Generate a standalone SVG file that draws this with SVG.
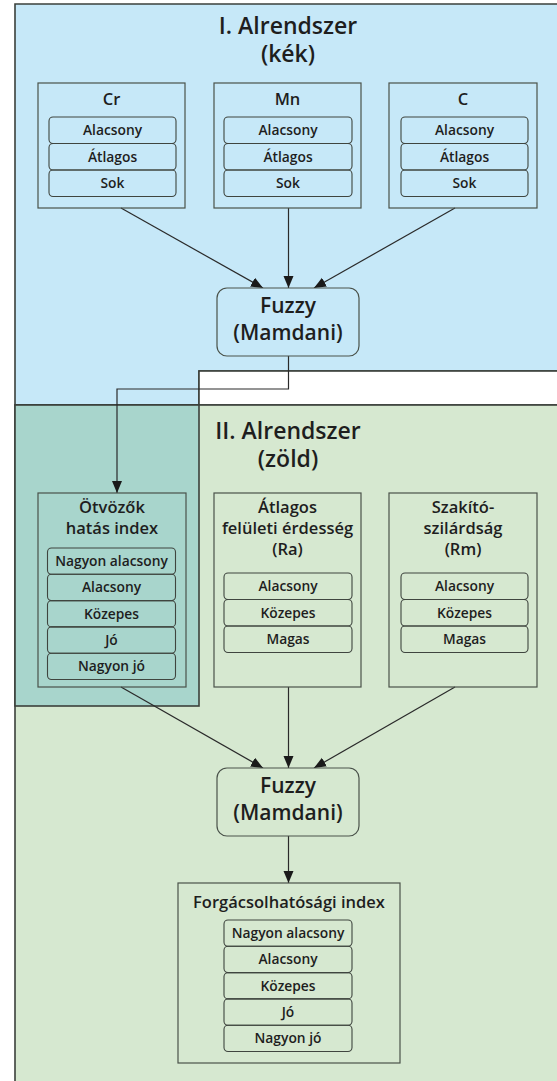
<svg xmlns="http://www.w3.org/2000/svg" width="557" height="1081" viewBox="0 0 557 1081">
<style>
  text { font-family: "Open Sans", "Liberation Sans", sans-serif; font-weight: 600; fill: #1e1e1e; text-anchor: middle; }
  .h1 { font-size: 23px; }
  .fz { font-size: 21px; }
  .t { font-size: 16.5px; }
  .it { font-size: 13.8px; }
  .panel { stroke: #3b403b; stroke-width: 1.6; }
  .box { fill: none; stroke: #4a524a; stroke-width: 1.2; }
  .row { fill: none; stroke: #3f453f; stroke-width: 1.1; }
  .fuzzy { stroke: #4a524a; stroke-width: 1.2; }
  .conn { fill: none; stroke: #2a2a2a; stroke-width: 1.2; }
</style>
<defs>
  <marker id="arr" markerUnits="userSpaceOnUse" markerWidth="13" markerHeight="11" refX="12" refY="5" orient="auto">
    <path d="M0,0 L12,5 L0,10 Z" fill="#1a1a1a"/>
  </marker>
</defs>
<rect x="0" y="0" width="557" height="1081" fill="#ffffff"/>
<g id="panels">
  <path class="panel" fill="#c6e8f8" d="M15,4 H562 V371 H199 V405 H15 Z"/>
  <rect class="panel" fill="#ffffff" x="199" y="371" width="363" height="34"/>
  <rect class="panel" fill="#d6e8d0" x="15" y="405" width="547" height="690"/>
  <rect class="panel" fill="#a8d5cc" x="15" y="405" width="184" height="301"/>
  <text class="h1" x="288" y="34">I. Alrendszer</text>
  <text class="h1" x="288" y="62">(kék)</text>
  <text class="h1" x="288" y="439">II. Alrendszer</text>
  <text class="h1" x="288" y="467">(zöld)</text>
</g>
<g id="connectors">
  <line class="conn" x1="121" y1="208" x2="263" y2="288" marker-end="url(#arr)"/>
  <line class="conn" x1="288.5" y1="208" x2="288.5" y2="288" marker-end="url(#arr)"/>
  <line class="conn" x1="455" y1="208" x2="314" y2="288" marker-end="url(#arr)"/>
  <path class="conn" d="M288.5,356 V389 H117 V493" marker-end="url(#arr)"/>
  <line class="conn" x1="121" y1="687" x2="263" y2="768" marker-end="url(#arr)"/>
  <line class="conn" x1="288.5" y1="687" x2="288.5" y2="768" marker-end="url(#arr)"/>
  <line class="conn" x1="455" y1="687" x2="314" y2="768" marker-end="url(#arr)"/>
  <line class="conn" x1="288.5" y1="836" x2="288.5" y2="883" marker-end="url(#arr)"/>
</g>
<g id="cr">
  <rect class="box" x="38" y="83" width="147" height="125"/>
  <text class="t" x="111.5" y="105">Cr</text>
  <rect class="row" x="49" y="117" width="127" height="26.5" rx="4"/>
  <rect class="row" x="49" y="143.5" width="127" height="26.5" rx="4"/>
  <rect class="row" x="49" y="170" width="127" height="26.5" rx="4"/>
  <text class="it" x="112.5" y="135">Alacsony</text>
  <text class="it" x="112.5" y="161.5">Átlagos</text>
  <text class="it" x="112.5" y="188">Sok</text>
</g>
<g id="mn">
  <rect class="box" x="214" y="83" width="147" height="125"/>
  <text class="t" x="287.5" y="105">Mn</text>
  <rect class="row" x="224" y="117" width="128" height="26.5" rx="4"/>
  <rect class="row" x="224" y="143.5" width="128" height="26.5" rx="4"/>
  <rect class="row" x="224" y="170" width="128" height="26.5" rx="4"/>
  <text class="it" x="288" y="135">Alacsony</text>
  <text class="it" x="288" y="161.5">Átlagos</text>
  <text class="it" x="288" y="188">Sok</text>
</g>
<g id="c">
  <rect class="box" x="389" y="83" width="148" height="125"/>
  <text class="t" x="463" y="105">C</text>
  <rect class="row" x="401" y="117" width="127" height="26.5" rx="4"/>
  <rect class="row" x="401" y="143.5" width="127" height="26.5" rx="4"/>
  <rect class="row" x="401" y="170" width="127" height="26.5" rx="4"/>
  <text class="it" x="464.5" y="135">Alacsony</text>
  <text class="it" x="464.5" y="161.5">Átlagos</text>
  <text class="it" x="464.5" y="188">Sok</text>
</g>
<g id="fuzzy1">
  <rect class="fuzzy" fill="#c6e8f8" x="217" y="288" width="142" height="68" rx="10"/>
  <text class="fz" x="288" y="313">Fuzzy</text>
  <text class="fz" x="288" y="340">(Mamdani)</text>
</g>
<g id="otvozok">
  <rect class="box" x="38" y="493" width="148" height="194"/>
  <text class="t" x="112" y="513">Ötvözők</text>
  <text class="t" x="112" y="534">hatás index</text>
  <rect class="row" x="47.5" y="548" width="128" height="26.3" rx="4"/>
  <rect class="row" x="47.5" y="574.3" width="128" height="26.3" rx="4"/>
  <rect class="row" x="47.5" y="600.6" width="128" height="26.3" rx="4"/>
  <rect class="row" x="47.5" y="626.9" width="128" height="26.3" rx="4"/>
  <rect class="row" x="47.5" y="653.2" width="128" height="26.3" rx="4"/>
  <text class="it" x="111.5" y="566">Nagyon alacsony</text>
  <text class="it" x="111.5" y="592.3">Alacsony</text>
  <text class="it" x="111.5" y="618.6">Közepes</text>
  <text class="it" x="111.5" y="644.9">Jó</text>
  <text class="it" x="111.5" y="671.2">Nagyon jó</text>
</g>
<g id="atlagos">
  <rect class="box" x="214" y="493" width="147" height="194"/>
  <text class="t" x="287.5" y="513">Átlagos</text>
  <text class="t" x="287.5" y="534">felületi érdesség</text>
  <text class="t" x="287.5" y="555">(Ra)</text>
  <rect class="row" x="224" y="573" width="128" height="26.5" rx="4"/>
  <rect class="row" x="224" y="599.5" width="128" height="26.5" rx="4"/>
  <rect class="row" x="224" y="626" width="128" height="26.5" rx="4"/>
  <text class="it" x="288" y="591">Alacsony</text>
  <text class="it" x="288" y="617.5">Közepes</text>
  <text class="it" x="288" y="644">Magas</text>
</g>
<g id="szakito">
  <rect class="box" x="389" y="493" width="148" height="194"/>
  <text class="t" x="463" y="513">Szakító-</text>
  <text class="t" x="463" y="534">szilárdság</text>
  <text class="t" x="463" y="555">(Rm)</text>
  <rect class="row" x="401" y="573" width="127" height="26.5" rx="4"/>
  <rect class="row" x="401" y="599.5" width="127" height="26.5" rx="4"/>
  <rect class="row" x="401" y="626" width="127" height="26.5" rx="4"/>
  <text class="it" x="464.5" y="591">Alacsony</text>
  <text class="it" x="464.5" y="617.5">Közepes</text>
  <text class="it" x="464.5" y="644">Magas</text>
</g>
<g id="fuzzy2">
  <rect class="fuzzy" fill="#d6e8d0" x="217" y="768" width="142" height="68" rx="10"/>
  <text class="fz" x="288" y="793">Fuzzy</text>
  <text class="fz" x="288" y="820">(Mamdani)</text>
</g>
<g id="forgacs">
  <rect class="box" x="178" y="883" width="222" height="180"/>
  <text class="t" x="289" y="908">Forgácsolhatósági index</text>
  <rect class="row" x="224" y="920" width="128" height="26.3" rx="4"/>
  <rect class="row" x="224" y="946.3" width="128" height="26.3" rx="4"/>
  <rect class="row" x="224" y="972.6" width="128" height="26.3" rx="4"/>
  <rect class="row" x="224" y="998.9" width="128" height="26.3" rx="4"/>
  <rect class="row" x="224" y="1025.2" width="128" height="26.3" rx="4"/>
  <text class="it" x="288" y="938">Nagyon alacsony</text>
  <text class="it" x="288" y="964.3">Alacsony</text>
  <text class="it" x="288" y="990.6">Közepes</text>
  <text class="it" x="288" y="1016.9">Jó</text>
  <text class="it" x="288" y="1043.2">Nagyon jó</text>
</g>
</svg>
